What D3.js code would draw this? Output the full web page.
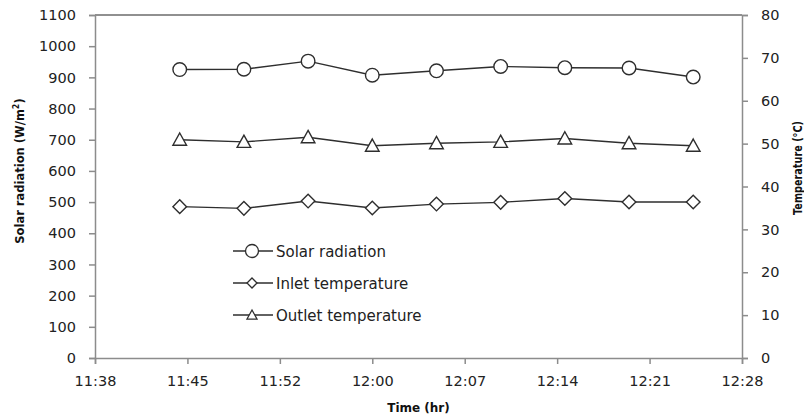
<!DOCTYPE html>
<html>
<head>
<meta charset="utf-8">
<script src="https://cdn.jsdelivr.net/npm/d3@7"></script>
<style>
  html, body { margin: 0; padding: 0; background: #fff; }
  svg { display: block; }
  text { font-family: "DejaVu Sans", Verdana, sans-serif; }
</style>
</head>
<body>
<svg id="chart" width="804" height="416"></svg>
<script>
// ---- data ----
const times = ["11:45","11:50","11:55","12:00","12:05","12:10","12:15","12:20","12:25"];
const solarRadiation = [925, 926, 952, 907, 921, 935, 931, 930, 901];
const inletTemperature = [35.3, 34.9, 36.6, 35.0, 35.9, 36.3, 37.2, 36.4, 36.4];
const outletTemperature = [50.9, 50.4, 51.5, 49.5, 50.1, 50.4, 51.2, 50.1, 49.5];

const xTickValues = [698.4, 705.6, 712.8, 720, 727.2, 734.4, 741.6, 748.8];
const xTickLabels = ["11:38","11:45","11:52","12:00","12:07","12:14","12:21","12:28"];
const leftTicks = [0,100,200,300,400,500,600,700,800,900,1000,1100];
const rightTicks = [0,10,20,30,40,50,60,70,80];
const seriesNames = ["Solar radiation", "Inlet temperature", "Outlet temperature"];

// ---- layout ----
const W = 804, H = 416;
const m = {left: 95, right: 62, top: 15, bottom: 58};
const pw = W - m.left - m.right, ph = H - m.top - m.bottom;
const svg = d3.select("#chart");
const g = svg.append("g").attr("transform", `translate(${m.left},${m.top})`);

const toMin = s => { const [h, mm] = s.split(":").map(Number); return h * 60 + mm; };
const x = d3.scaleLinear().domain([698.4, 748.8]).range([0, pw]);
const yL = d3.scaleLinear().domain([0, 1100]).range([ph, 0]);
const yR = d3.scaleLinear().domain([0, 80]).range([ph, 0]);

const axisColor = "#8c8c8c";
const textColor = "#222";
const markColor = "#2e2e2e";

// top border
g.append("line").attr("x1", 0).attr("x2", pw).attr("y1", 0).attr("y2", 0)
  .attr("stroke", "#222").attr("stroke-width", 1.2);

function styleAxis(sel) {
  sel.select(".domain").attr("stroke", axisColor).attr("stroke-width", 1.5);
  sel.selectAll(".tick line").attr("stroke", axisColor).attr("stroke-width", 1.5);
  sel.selectAll(".tick text").attr("fill", textColor)
    .style("font-size", "14.5px").style("font-family", "'DejaVu Sans', Verdana, sans-serif");
}

const xa = g.append("g").attr("transform", `translate(0,${ph})`)
  .call(d3.axisBottom(x).tickValues(xTickValues)
    .tickFormat((d, i) => xTickLabels[i]).tickSizeOuter(0).tickSize(6).tickPadding(12));
styleAxis(xa);

const la = g.append("g")
  .call(d3.axisLeft(yL).tickValues(leftTicks).tickFormat(d3.format("d"))
    .tickSizeOuter(0).tickSize(6).tickPadding(13));
styleAxis(la);

const ra = g.append("g").attr("transform", `translate(${pw},0)`)
  .call(d3.axisRight(yR).tickValues(rightTicks).tickFormat(d3.format("d"))
    .tickSizeOuter(0).tickSize(6).tickPadding(13));
styleAxis(ra);

// axis titles
const lt = svg.append("text").attr("transform", "translate(24,171) rotate(-90)")
  .attr("text-anchor", "middle").attr("font-weight", "bold").attr("font-size", "11.5px").attr("fill", "#111");
lt.append("tspan").text("Solar radiation (W/m");
lt.append("tspan").attr("dy", -5).attr("font-size", "8px").text("2");
lt.append("tspan").attr("dy", 5).text(")");

svg.append("text").attr("transform", "translate(802,168) rotate(-90)")
  .attr("text-anchor", "middle").attr("font-weight", "bold").attr("font-size", "11.5px").attr("fill", "#111")
  .attr("textLength", 94).attr("lengthAdjust", "spacingAndGlyphs")
  .text("Temperature (°C)");

svg.append("text").attr("x", m.left + pw / 2).attr("y", 412)
  .attr("text-anchor", "middle").attr("font-weight", "bold").attr("font-size", "12px").attr("fill", "#111")
  .text("Time (hr)");

// ---- symbols ----
function markerPath(k, s) {
  if (k === 0) return d3.symbol().type(d3.symbolCircle).size(Math.PI * s * s)();
  if (k === 1) return `M0,${-s}L${s},0L0,${s}L${-s},0Z`;
  const h = s * 1.8, w = s;
  return `M0,${-h * 0.55}L${w},${h * 0.45}L${-w},${h * 0.45}Z`;
}

const series = [
  {vals: solarRadiation, y: yL},
  {vals: inletTemperature, y: yR},
  {vals: outletTemperature, y: yR}
];
const markSize = [6.8, 6.8, 6.8];

series.forEach((s, k) => {
  const pts = times.map((t, i) => [x(toMin(t)), s.y(s.vals[i])]);
  g.append("path").attr("d", d3.line()(pts))
    .attr("fill", "none").attr("stroke", markColor).attr("stroke-width", 1.4);
  g.selectAll(null).data(pts).enter().append("path")
    .attr("transform", d => `translate(${d[0]},${d[1]})`)
    .attr("d", markerPath(k, markSize[k]))
    .attr("fill", "#fff").attr("stroke", markColor).attr("stroke-width", 1.4);
});

// ---- legend ----
const legY = [251, 283, 315];
const legSize = [6.5, 5, 5];
seriesNames.forEach((name, k) => {
  const lg = svg.append("g").attr("transform", `translate(0,${legY[k]})`);
  lg.append("line").attr("x1", 233).attr("x2", 273).attr("y1", 0).attr("y2", 0)
    .attr("stroke", markColor).attr("stroke-width", 1.4);
  lg.append("path").attr("transform", `translate(252,0)`)
    .attr("d", markerPath(k, legSize[k]))
    .attr("fill", "#fff").attr("stroke", markColor).attr("stroke-width", 1.3);
  lg.append("text").attr("x", 276).attr("y", 5.5).attr("font-size", "15px").attr("fill", textColor)
    .text(name);
});
</script>
</body>
</html>
